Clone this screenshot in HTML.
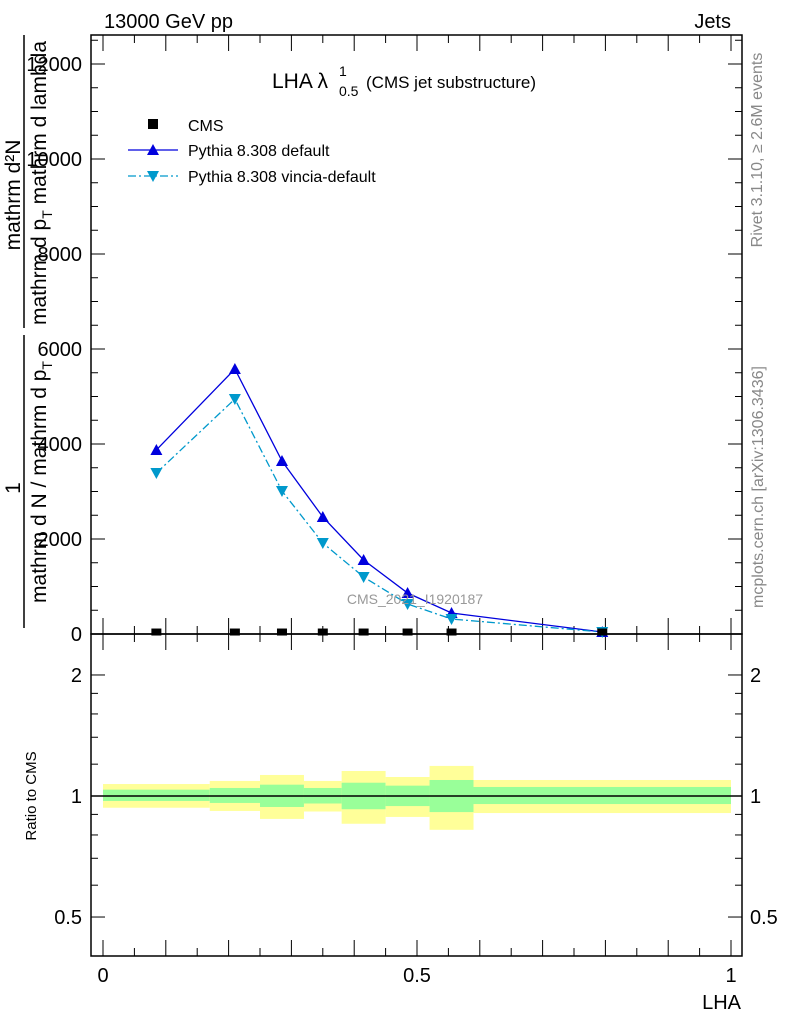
<!DOCTYPE html>
<html><head><meta charset="utf-8"><style>
body{margin:0;background:#fff;}
svg{display:block;font-family:"Liberation Sans",sans-serif;}
</style></head><body>
<svg id="c" width="786" height="1024" viewBox="0 0 786 1024">
<g id="g"></g>
</svg>
<script>
const xEdges=[0,0.17,0.25,0.32,0.38,0.45,0.52,0.59,1.0];
const xMid=[0.085,0.21,0.285,0.35,0.415,0.485,0.555,0.795];
const cmsVals=[10,10,10,10,10,10,10,10];
const pythiaDefault=[3874,5579,3642,2463,1558,863,442,42];
const pythiaVincia=[3389,4947,3011,1916,1200,632,316,42];
const yellowHi=[1.071,1.090,1.128,1.090,1.154,1.115,1.188,1.096];
const yellowLo=[0.935,0.918,0.877,0.915,0.853,0.887,0.824,0.907];
const greenHi=[1.037,1.047,1.067,1.047,1.079,1.061,1.096,1.053];
const greenLo=[0.972,0.961,0.939,0.958,0.927,0.944,0.912,0.955];
const yTicks=[0,2000,4000,6000,8000,10000,12000];
const yTickLabels=["0","2000","4000","6000","8000","10000","12000"];
const rTicks=[0.5,1,2];
const rTickLabels=["0.5","1","2"];
const xTicks=[0,0.5,1];
const xTickLabels=["0","0.5","1"];

const NS="http://www.w3.org/2000/svg";
const g=document.getElementById('g');
function el(t,a,p){const e=document.createElementNS(NS,t);for(const k in a)e.setAttribute(k,a[k]);(p||g).appendChild(e);return e;}
const L=91,R=742,T=35,MB=634,RB=956;
const X=v=>103+v*628;
const Y=v=>634-v*95/2000;
const RY=v=>796-Math.log(v)*174.6;

for(let i=0;i<8;i++){
  const y=el('rect',{x:X(xEdges[i]),y:RY(yellowHi[i]),width:X(xEdges[i+1])-X(xEdges[i]),height:RY(yellowLo[i])-RY(yellowHi[i]),fill:'#ffff99'});
  
  
  const gr=el('rect',{x:X(xEdges[i]),y:RY(greenHi[i]),width:X(xEdges[i+1])-X(xEdges[i]),height:RY(greenLo[i])-RY(greenHi[i]),fill:'#99ff99'});
  
  
}
let rl=el('line',{x1:L,x2:R,y1:RY(1),y2:RY(1),stroke:'#000','stroke-width':1.5});



let f1=el('rect',{x:L,y:T,width:R-L,height:MB-T,fill:'none',stroke:'#000','stroke-width':1.5});


let f2=el('rect',{x:L,y:MB,width:R-L,height:RB-MB,fill:'none',stroke:'#000','stroke-width':1.5});



for(let v=0;v<=12500;v+=500){
  const big=v%2000===0, len=big?14:7;
  el('line',{x1:L,x2:L+len,y1:Y(v),y2:Y(v),stroke:'#000'});
  el('line',{x1:R,x2:R-len,y1:Y(v),y2:Y(v),stroke:'#000'});
}
yTicks.forEach((v,i)=>{
  const t=el('text',{x:82,y:Y(v)+7,'text-anchor':'end','font-size':20});
  t.textContent=yTickLabels[i];
  
  
});
for(let v=0;v<=1.0001;v+=0.05){
  const big=Math.abs(v*10-Math.round(v*10))<1e-6, len=big?16:8;
  [MB,RB].forEach(b=>{el('line',{x1:X(v),x2:X(v),y1:b,y2:b-len,stroke:'#000'});});
  el('line',{x1:X(v),x2:X(v),y1:MB,y2:MB+len,stroke:'#000'});
  el('line',{x1:X(v),x2:X(v),y1:T,y2:T+len,stroke:'#000'});
}
xTicks.forEach((v,i)=>{
  const t=el('text',{x:X(v),y:982,'text-anchor':'middle','font-size':20});
  t.textContent=xTickLabels[i];
  
  
});
[0.5,0.6,0.7,0.8,0.9,1,1.2,1.4,1.6,1.8,2].forEach(v=>{
  const big=rTicks.includes(v), len=big?14:7;
  el('line',{x1:L,x2:L+len,y1:RY(v),y2:RY(v),stroke:'#000'});
  el('line',{x1:R,x2:R-len,y1:RY(v),y2:RY(v),stroke:'#000'});
});
rTicks.forEach((v,i)=>{
  const t=el('text',{x:82,y:RY(v)+7,'text-anchor':'end','font-size':20});
  t.textContent=rTickLabels[i];
  
  
  const t2=el('text',{x:750,y:RY(v)+7,'font-size':20});
  t2.textContent=rTickLabels[i];
  
  
});

function series(vals,color,dash,name,down){
  const pts=xMid.map((x,i)=>X(x)+','+Y(vals[i])).join(' ');
  const p=el('polyline',{points:pts,fill:'none',stroke:color,'stroke-width':1.3,'stroke-dasharray':dash});
  
  
  xMid.forEach((x,i)=>{
    const cx=X(x),cy=Y(vals[i]);
    const pt=down?`${cx-6},${cy-5} ${cx+6},${cy-5} ${cx},${cy+6}`:`${cx-6},${cy+5} ${cx+6},${cy+5} ${cx},${cy-6}`;
    const m=el('polygon',{points:pt,fill:color});
    
    
  });
}
series(pythiaDefault,'#0000dd','none','pythia-default',false);
series(pythiaVincia,'#0099cc','8,3,2,3','pythia-vincia',true);
xMid.forEach((x,i)=>{
  const m=el('rect',{x:X(x)-5,y:Y(cmsVals[i])-5,width:10,height:7,fill:'#000'});
  
  
});
</script>
<svg width="786" height="1024" style="position:absolute;left:0;top:0" viewBox="0 0 786 1024">
<text x="104" y="28" font-size="20">13000 GeV pp</text>
<text x="731" y="28" font-size="20" text-anchor="end">Jets</text>
<g>
<text x="272" y="88" font-size="21">LHA λ</text>
<text x="339" y="96" font-size="14">0.5</text>
<text x="339" y="76" font-size="14">1</text>
<text x="366" y="88" font-size="17">(CMS jet substructure)</text>
</g>
<rect x="148" y="119" width="10" height="10" fill="#000"/>
<text x="188" y="131" font-size="16">CMS</text>
<line x1="128" x2="178" y1="150" y2="150" stroke="#0000dd" stroke-width="1.3"/>
<polygon points="147,155 159,155 153,144" fill="#0000dd"/>
<text x="188" y="156" font-size="16">Pythia 8.308 default</text>
<line x1="128" x2="178" y1="176" y2="176" stroke="#0099cc" stroke-width="1.3" stroke-dasharray="8,3,2,3"/>
<polygon points="147,171 159,171 153,182" fill="#0099cc"/>
<text x="188" y="182" font-size="16">Pythia 8.308 vincia-default</text>
<text x="415" y="604" font-size="14" fill="#999" text-anchor="middle">CMS_2021_I1920187</text>
<text transform="translate(762,150) rotate(-90)" font-size="16" fill="#888" text-anchor="middle">Rivet 3.1.10, ≥ 2.6M events</text>
<text transform="translate(763,487) rotate(-90)" font-size="16" fill="#888" text-anchor="middle">mcplots.cern.ch [arXiv:1306.3436]</text>
<g font-size="21">
<text transform="translate(20,195) rotate(-90)" text-anchor="middle">mathrm d²N</text>
<line x1="24" x2="24" y1="35" y2="328" stroke="#000" stroke-width="1.5"/>
<text transform="translate(46,183) rotate(-90)" text-anchor="middle">mathrm d p<tspan font-size="14" dy="6">T</tspan><tspan dy="-6"> mathrm d lambda</tspan></text>
<text transform="translate(20,488) rotate(-90)" text-anchor="middle">1</text>
<line x1="24" x2="24" y1="335" y2="628" stroke="#000" stroke-width="1.5"/>
<text transform="translate(46,482) rotate(-90)" text-anchor="middle">mathrm d N / mathrm d p<tspan font-size="14" dy="6">T</tspan></text>
</g>
<text transform="translate(36,796) rotate(-90)" font-size="15" text-anchor="middle">Ratio to CMS</text>
<text x="741" y="1009" font-size="20" text-anchor="end">LHA</text>
</svg>
</body></html>
